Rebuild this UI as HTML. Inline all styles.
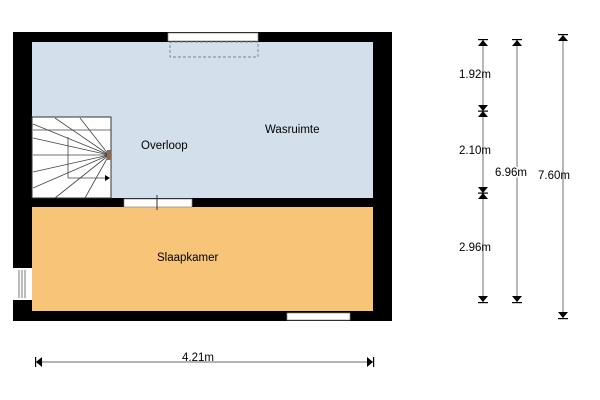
<!DOCTYPE html><html><head><style>body{margin:0;background:#fff}svg{display:block}text{font-family:"Liberation Sans",sans-serif}</style></head><body>
<svg width="600" height="400" viewBox="0 0 600 400">
<rect x="13" y="32" width="379" height="289" fill="#000"/>
<rect x="32" y="42" width="341" height="156" fill="#d3dfea"/>
<rect x="32" y="207" width="341" height="104" fill="#f8c478"/>
<rect x="168" y="33" width="90" height="8" fill="#fff" stroke="#888" stroke-width="0.7"/>
<rect x="170" y="42" width="88" height="15" fill="none" stroke="#666" stroke-width="0.7" stroke-dasharray="3,2"/>
<rect x="124" y="199" width="68" height="8" fill="#fff" stroke="#888" stroke-width="0.7"/>
<line x1="157" y1="195" x2="157" y2="210" stroke="#333"/>
<rect x="13" y="268" width="19" height="32" fill="#fff"/>
<line x1="19" y1="270" x2="19" y2="298" stroke="#777"/><line x1="22" y1="270" x2="22" y2="298" stroke="#777"/><line x1="25" y1="270" x2="25" y2="298" stroke="#777"/>
<rect x="287" y="313" width="63" height="7" fill="#fff" stroke="#888" stroke-width="0.7"/>
<rect x="32" y="117" width="79" height="81" fill="#fff" stroke="#333"/>
<g stroke="#444" stroke-width="0.8">
<line x1="109" y1="155" x2="33" y2="124"/><line x1="109" y1="155" x2="55" y2="118"/><line x1="109" y1="155" x2="80" y2="118"/>
<line x1="109" y1="155" x2="33" y2="138"/><line x1="109" y1="155" x2="33" y2="155"/><line x1="109" y1="155" x2="33" y2="172"/>
<line x1="109" y1="155" x2="33" y2="188"/><line x1="109" y1="155" x2="55" y2="198"/><line x1="109" y1="155" x2="85" y2="198"/>
<line x1="33" y1="130" x2="111" y2="130"/><line x1="68" y1="137" x2="68" y2="178"/><line x1="68" y1="178" x2="106" y2="178"/>
</g>
<rect x="107" y="150" width="4" height="10" fill="#8b6b50"/>
<polygon points="105,175 110,178 105,181" fill="#000"/>
<g font-size="11.5" fill="#000">
<text x="141" y="149">Overloop</text>
<text x="265" y="133">Wasruimte</text>
<text x="157" y="261">Slaapkamer</text>
</g>
<g stroke="#888" stroke-width="1.2">
<line x1="483" y1="40" x2="483" y2="302"/><line x1="517" y1="40" x2="517" y2="302"/><line x1="563" y1="35" x2="563" y2="318"/>
<line x1="36" y1="362" x2="373" y2="362"/>
</g>
<g fill="#000">
<polygon points="483,40 478,46 488,46"/><rect x="478" y="39" width="10" height="1.2"/>
<polygon points="483,111 478,105 488,105"/><polygon points="483,111 478,117 488,117"/><rect x="478" y="110.5" width="10" height="1.2"/>
<polygon points="483,193 478,187 488,187"/><polygon points="483,193 478,199 488,199"/><rect x="478" y="192.5" width="10" height="1.2"/>
<polygon points="483,302 478,296 488,296"/><rect x="478" y="302" width="10" height="1.2"/>
<polygon points="517,40 512,46 522,46"/><rect x="512" y="39" width="10" height="1.2"/>
<polygon points="517,302 512,296 522,296"/><rect x="512" y="302" width="10" height="1.2"/>
<polygon points="563,35 558,41 568,41"/><rect x="558" y="34" width="10" height="1.2"/>
<polygon points="563,318 558,312 568,312"/><rect x="558" y="318" width="10" height="1.2"/>
<polygon points="36,362 42,357 42,367"/><rect x="35" y="357" width="1.2" height="10"/>
<polygon points="373,362 367,357 367,367"/><rect x="373" y="357" width="1.2" height="10"/>
</g>
<g font-size="11.5" fill="#000">
<text x="459" y="78">1.92m</text>
<text x="459" y="154">2.10m</text>
<text x="459" y="251">2.96m</text>
<text x="538" y="179">7.60m</text>
<text x="495" y="176" stroke="#fff" stroke-width="3" paint-order="stroke">6.96m</text>
<text x="182" y="361">4.21m</text>
</g>
</svg></body></html>
